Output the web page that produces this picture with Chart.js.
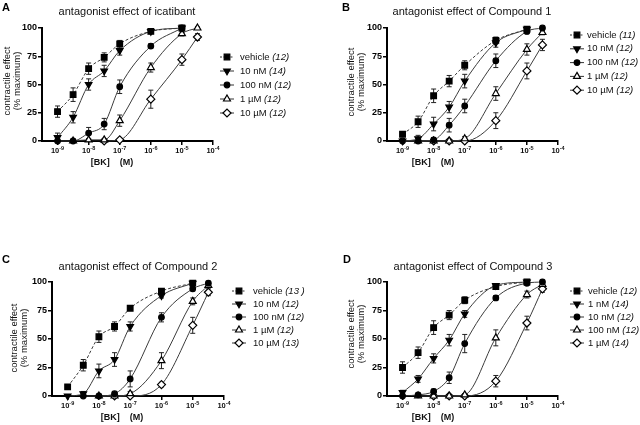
<!DOCTYPE html>
<html>
<head>
<meta charset="utf-8">
<script src="https://cdn.jsdelivr.net/npm/chart.js@4.4.1/dist/chart.umd.min.js"></script>
<style>
  body { margin: 0; background: #fff; }
  #wrap { position: relative; width: 640px; height: 425px; overflow: hidden; }
  canvas { position: absolute; }
</style>
</head>
<body>
<div id="wrap">
  <canvas id="chartA" width="320" height="212" style="left:0;top:0"></canvas>
  <canvas id="chartB" width="320" height="212" style="left:320px;top:0"></canvas>
  <canvas id="chartC" width="320" height="212" style="left:0;top:213px"></canvas>
  <canvas id="chartD" width="320" height="212" style="left:320px;top:213px"></canvas>
</div>
<script>
// log10 [BK] (M) for every concentration used
const doses = [-9, -8.5, -8, -7.5, -7, -6, -5, -4.5];
const xTicks = [-9, -8, -7, -6, -5, -4];
const yTicks = [0, 25, 50, 75, 100];

// Panel A - icatibant
const titleA = 'antagonist effect of icatibant';
const seriesA = ['vehicle', '10 nM', '100 nM', '1 µM', '10 µM'];
const countsA = ['(12)', '(14)', '(12)', '(12)', '(12)'];
const valuesA = [
  [26, 41, 64, 74, 86, 97, 100, null],
  [3, 21, 50, 62, 80, 97, 100, null],
  [0, 0, 7, 15, 48, 84, 100, null],
  [null, 0, 1, 1, 18, 65, 95, 100],
  [null, null, null, 0, 1, 37, 72, 92]
];
const errorsA = [
  [5, 6, 5, 4, 3, 1, 1, 0],
  [4, 5, 5, 5, 4, 1, 1, 0],
  [1, 1, 5, 5, 6, 2, 1, 0],
  [0, 1, 1, 1, 5, 4, 2, 1],
  [0, 0, 0, 1, 1, 8, 5, 3]
];

// Panel B - Compound 1
const titleB = 'antagonist effect of Compound 1';
const seriesB = ['vehicle', '10 nM', '100 nM', '1 µM', '10 µM'];
const countsB = ['(11)', '(12)', '(12)', '(12)', '(12)'];
const valuesB = [
  [6, 17, 40, 53, 67, 89, 99, null],
  [0, 2, 15, 30, 53, 87, 99, null],
  [0, 0, 1, 14, 31, 71, 97, 100],
  [null, 0, 0, 0, 2, 42, 81, 96],
  [null, null, 0, 0, 0, 18, 62, 85]
];
const errorsB = [
  [2, 5, 6, 5, 4, 3, 2, 0],
  [1, 3, 6, 5, 6, 4, 1, 0],
  [0, 1, 2, 6, 6, 6, 2, 1],
  [0, 0, 1, 1, 2, 6, 5, 2],
  [0, 0, 0, 1, 1, 7, 7, 5]
];

// Panel C - Compound 2
const titleC = 'antagonist effect of Compound 2';
const seriesC = ['vehicle', '10 nM', '100 nM', '1 µM', '10 µM'];
const countsC = ['(13 )', '(12)', '(12)', '(12)', '(13)'];
const valuesC = [
  [8, 27, 52, 61, 77, 92, 99, null],
  [0, 2, 22, 32, 61, 88, 99, null],
  [null, 0, 0, 2, 15, 69, 94, 99],
  [null, null, 0, 0, 2, 31, 83, 97],
  [null, null, null, 0, 0, 10, 62, 91]
];
const errorsC = [
  [2, 5, 5, 4, 2, 2, 1, 0],
  [1, 2, 6, 6, 4, 2, 1, 0],
  [0, 0, 1, 1, 7, 4, 2, 1],
  [0, 0, 0, 1, 2, 7, 3, 2],
  [0, 0, 0, 1, 1, 2, 7, 3]
];

// Panel D - Compound 3
const titleD = 'antagonist effect of Compound 3';
const seriesD = ['vehicle', '1 nM', '10 nM', '100 nM', '1 µM'];
const countsD = ['(12)', '(14)', '(12)', '(12)', '(14)'];
const valuesD = [
  [25, 38, 60, 71, 84, 96, 100, null],
  [3, 15, 33, 49, 72, 97, 100, null],
  [0, 1, 4, 16, 46, 86, 99, 100],
  [null, 0, 0, 0, 1, 51, 89, 98],
  [null, null, 0, 0, 0, 13, 64, 94]
];
const errorsD = [
  [5, 5, 6, 4, 3, 1, 1, 0],
  [2, 3, 4, 5, 3, 1, 1, 0],
  [0, 1, 2, 5, 8, 2, 1, 1],
  [0, 0, 1, 1, 1, 7, 3, 2],
  [0, 0, 0, 1, 1, 5, 6, 3]
];

const FONT = 'Arial, "Liberation Sans", sans-serif';

// marker look for series 1..5 (same order in every panel)
const markers = [
  { style: 'rect', rot: 0, r: 4, fill: true },
  { style: 'triangle', rot: 180, r: 3.8, fill: true },
  { style: 'circle', rot: 0, r: 2.8, fill: true },
  { style: 'triangle', rot: 0, r: 4, fill: false },
  { style: 'rectRot', rot: 0, r: 4, fill: false }
];

const panels = [
  { id: 'chartA', title: titleA, series: seriesA, counts: countsA, values: valuesA, errors: errorsA,
    area: { left: 42, right: 213, top: 28, bottom: 141 },
    letter: 'A', letterX: 2, letterY: 8, titleX: 127, titleY: 12,
    yTitleX: [7, 17], yTitleY: 81, xTitleX: 112, xTitleY: 163,
    legendX: 227, textX: 240, legendY: 57, legendStep: 14 },
  { id: 'chartB', title: titleB, series: seriesB, counts: countsB, values: valuesB, errors: errorsB,
    area: { left: 67, right: 238, top: 28, bottom: 141 },
    letter: 'B', letterX: 22, letterY: 8, titleX: 152, titleY: 12,
    yTitleX: [31, 41], yTitleY: 82, xTitleX: 113, xTitleY: 163,
    legendX: 257, textX: 267, legendY: 35, legendStep: 13.8 },
  { id: 'chartC', title: titleC, series: seriesC, counts: countsC, values: valuesC, errors: errorsC,
    area: { left: 52, right: 224, top: 69, bottom: 183 },
    letter: 'C', letterX: 2, letterY: 47, titleX: 138, titleY: 54,
    yTitleX: [14, 24], yTitleY: 125, xTitleX: 122, xTitleY: 205,
    legendX: 239, textX: 253, legendY: 78, legendStep: 13 },
  { id: 'chartD', title: titleD, series: seriesD, counts: countsD, values: valuesD, errors: errorsD,
    area: { left: 67, right: 238, top: 69, bottom: 183 },
    letter: 'D', letterX: 23, letterY: 47, titleX: 153, titleY: 54,
    yTitleX: [31, 41], yTitleY: 121, xTitleX: 113, xTitleY: 205,
    legendX: 257, textX: 268, legendY: 78, legendStep: 13 }
];

function drawMarker(ctx, m, x, y) {
  ctx.save();
  ctx.fillStyle = m.fill ? '#000' : '#fff';
  ctx.strokeStyle = '#000';
  ctx.lineWidth = 1.2;
  ctx.setLineDash([]);
  Chart.helpers.drawPoint(ctx, { pointStyle: m.style, rotation: m.rot, radius: m.r, borderWidth: 1.2 }, x, y);
  ctx.restore();
}

// SEM bars, drawn under the symbols
const errorBars = {
  id: 'errorBars',
  beforeDatasetsDraw(chart) {
    const ctx = chart.ctx;
    const ys = chart.scales.y;
    ctx.save();
    ctx.strokeStyle = '#222';
    ctx.lineWidth = 1;
    chart.data.datasets.forEach((ds, i) => {
      const meta = chart.getDatasetMeta(i);
      ds.data.forEach((pt, j) => {
        if (!pt.e) return;
        const px = meta.data[j].x;
        const y1 = ys.getPixelForValue(pt.y + pt.e);
        const y2 = ys.getPixelForValue(Math.max(pt.y - pt.e, 0));
        ctx.beginPath();
        ctx.moveTo(px, y1); ctx.lineTo(px, y2);
        ctx.moveTo(px - 2.5, y1); ctx.lineTo(px + 2.5, y1);
        ctx.moveTo(px - 2.5, y2); ctx.lineTo(px + 2.5, y2);
        ctx.stroke();
      });
    });
    ctx.restore();
  }
};

// letters, titles, axis titles, x tick labels and the legend
const panelText = {
  id: 'panelText',
  afterDraw(chart) {
    const p = chart.options.plugins.panelText;
    const ctx = chart.ctx;
    const xs = chart.scales.x;
    const area = chart.chartArea;
    ctx.save();
    ctx.fillStyle = '#000';
    ctx.textBaseline = 'middle';

    ctx.font = 'bold 11px ' + FONT;
    ctx.textAlign = 'left';
    ctx.fillText(p.letter, p.letterX, p.letterY);

    ctx.font = '11px ' + FONT;
    ctx.textAlign = 'center';
    ctx.fillStyle = '#111';
    ctx.fillText(p.title, p.titleX, p.titleY);

    // y title, two rotated lines
    ctx.font = '9.5px ' + FONT;
    ['contractile effect', '(% maximum)'].forEach((t, k) => {
      ctx.save();
      ctx.translate(p.yTitleX[k], p.yTitleY);
      ctx.rotate(-Math.PI / 2);
      ctx.fillText(t, 0, 0);
      ctx.restore();
    });

    // x tick labels as 10 with raised exponent
    xTicks.forEach(v => {
      const px = xs.getPixelForValue(v);
      ctx.font = 'bold 7.5px ' + FONT;
      const w1 = ctx.measureText('10').width;
      ctx.font = 'bold 5.5px ' + FONT;
      const w2 = ctx.measureText(String(v)).width;
      const x0 = px - (w1 + w2) / 2;
      ctx.textAlign = 'left';
      ctx.font = 'bold 7.5px ' + FONT;
      ctx.fillText('10', x0, area.bottom + 10);
      ctx.font = 'bold 5.5px ' + FONT;
      ctx.fillText(String(v), x0 + w1, area.bottom + 7);
    });

    ctx.font = 'bold 9px ' + FONT;
    ctx.textAlign = 'center';
    ctx.fillText('[BK]    (M)', p.xTitleX, p.xTitleY);

    // legend
    p.series.forEach((name, i) => {
      const y = p.legendY + i * p.legendStep;
      ctx.save();
      ctx.strokeStyle = '#333';
      ctx.lineWidth = 1;
      ctx.setLineDash(i === 0 ? [2, 1.5] : []);
      ctx.beginPath();
      ctx.moveTo(p.legendX - 7, y);
      ctx.lineTo(p.legendX + 7, y);
      ctx.stroke();
      ctx.restore();
      drawMarker(ctx, markers[i], p.legendX, y);
      ctx.textAlign = 'left';
      ctx.fillStyle = '#111';
      ctx.font = '9.5px ' + FONT;
      ctx.fillText(name + ' ', p.textX, y);
      const w = ctx.measureText(name + ' ').width;
      ctx.font = 'italic 9.5px ' + FONT;
      ctx.fillText(p.counts[i], p.textX + w, y);
    });
    ctx.restore();
  }
};

const Y_W = 30, X_H = 6, W = 320, H = 212;

panels.forEach(p => {
  const datasets = p.values.map((vals, i) => {
    const m = markers[i];
    const pts = [];
    vals.forEach((v, j) => {
      if (v !== null) pts.push({ x: doses[j], y: v, e: p.errors[i][j] });
    });
    return {
      label: p.series[i],
      data: pts,
      showLine: true,
      cubicInterpolationMode: 'monotone',
      borderColor: '#3c3c3c',
      borderWidth: 1,
      borderDash: i === 0 ? [3, 2] : [],
      pointStyle: m.style,
      pointRotation: m.rot,
      pointRadius: m.r,
      pointHoverRadius: m.r,
      pointBackgroundColor: m.fill ? '#000' : '#fff',
      pointBorderColor: '#000',
      pointBorderWidth: 1.2,
      clip: false
    };
  });

  new Chart(document.getElementById(p.id), {
    type: 'scatter',
    data: { datasets },
    options: {
      responsive: false,
      animation: false,
      devicePixelRatio: 1,
      layout: {
        padding: {
          left: p.area.left - Y_W,
          right: W - p.area.right,
          top: p.area.top,
          bottom: H - p.area.bottom - X_H
        }
      },
      plugins: {
        legend: { display: false },
        tooltip: { enabled: false },
        panelText: p
      },
      scales: {
        x: {
          type: 'linear',
          min: -9.5,
          max: -4,
          afterBuildTicks: s => { s.ticks = xTicks.map(v => ({ value: v })); },
          afterFit: s => { s.height = X_H; },
          ticks: { callback: () => '', autoSkip: false, padding: 0 },
          grid: { drawOnChartArea: false, drawTicks: true, tickLength: 4, color: '#000', lineWidth: 1.5 },
          border: { color: '#000', width: 2 }
        },
        y: {
          min: 0,
          max: 100,
          afterBuildTicks: s => { s.ticks = yTicks.map(v => ({ value: v })); },
          afterFit: s => { s.width = Y_W; },
          ticks: { color: '#000', font: { family: FONT, size: 9, weight: 'bold' }, padding: 1 },
          grid: { drawOnChartArea: false, drawTicks: true, tickLength: 4, color: '#000', lineWidth: 1.5 },
          border: { color: '#000', width: 2 }
        }
      }
    },
    plugins: [errorBars, panelText]
  });
});
</script>
</body>
</html>
